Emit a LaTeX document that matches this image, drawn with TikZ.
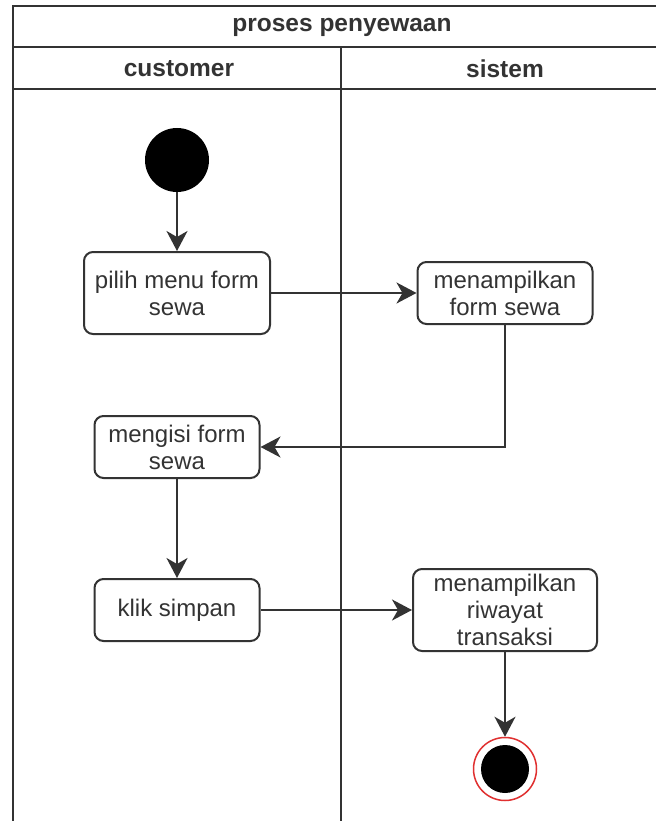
\documentclass[tikz,border=0pt]{standalone}
\usepackage{fontspec}
\setmainfont{Liberation Sans}
\usetikzlibrary{arrows.meta}
\definecolor{linegray}{HTML}{333333}
\definecolor{endred}{HTML}{E03030}
\begin{document}
\begin{tikzpicture}[x=1pt, y=-1pt,
	every node/.style={font=\fontsize{24}{27}\selectfont, text=linegray},
	head/.style={font=\fontsize{24.5}{27}\selectfont\bfseries},
	act/.style={draw=linegray, line width=2pt, rounded corners=9pt, align=center, inner sep=0pt},
	flow/.style={draw=linegray, line width=2pt, -{Stealth[length=20pt, width=21pt, inset=6pt]}},
	lane/.style={draw=linegray, line width=2pt}]
\useasboundingbox (0, 0) rectangle (656, 821);

\draw[lane] (13, 821) -- (13, 6) -- (656, 6);
\draw[lane] (13, 47) -- (656, 47);
\draw[lane] (13, 89) -- (656, 89);
\draw[lane] (341, 47) -- (341, 821);

\node[head] (title) at (342, 27) {proses penyewaan};
\node[head] (customer) at (179, 69) {customer};
\node[head] (sistem) at (505, 69) {sistem};

\node[circle, fill=black, minimum size=64pt, inner sep=0pt] (start) at (177, 160) {};

\node[act, minimum width=186pt, minimum height=82pt] (pilih) at (177, 293) {pilih menu form\\sewa};
\node[act, minimum width=175pt, minimum height=62pt] (tampilform) at (505, 293) {menampilkan\\form sewa};
\node[act, minimum width=165pt, minimum height=62pt] (isi) at (177, 447) {mengisi form\\sewa};
\node[act, minimum width=165pt, minimum height=62pt] (simpan) at (177, 610) {klik simpan};
\node[act, minimum width=184pt, minimum height=82pt] (riwayat) at (505, 610) {menampilkan\\riwayat\\transaksi};

\node[circle, draw=endred, line width=1.5pt, fill=white, minimum size=63pt, inner sep=0pt] (end) at (505, 769) {};
\node[circle, fill=black, minimum size=48pt, inner sep=0pt] (endin) at (end) {};

\draw[flow] (start) -- (pilih);
\draw[flow] (pilih) -- (tampilform);
\draw[flow] (tampilform.south) |- (isi.east);
\draw[flow] (isi) -- (simpan);
\draw[flow] (simpan) -- (riwayat.west |- simpan);
\draw[flow] (riwayat) -- (end);
\end{tikzpicture}
\end{document}
